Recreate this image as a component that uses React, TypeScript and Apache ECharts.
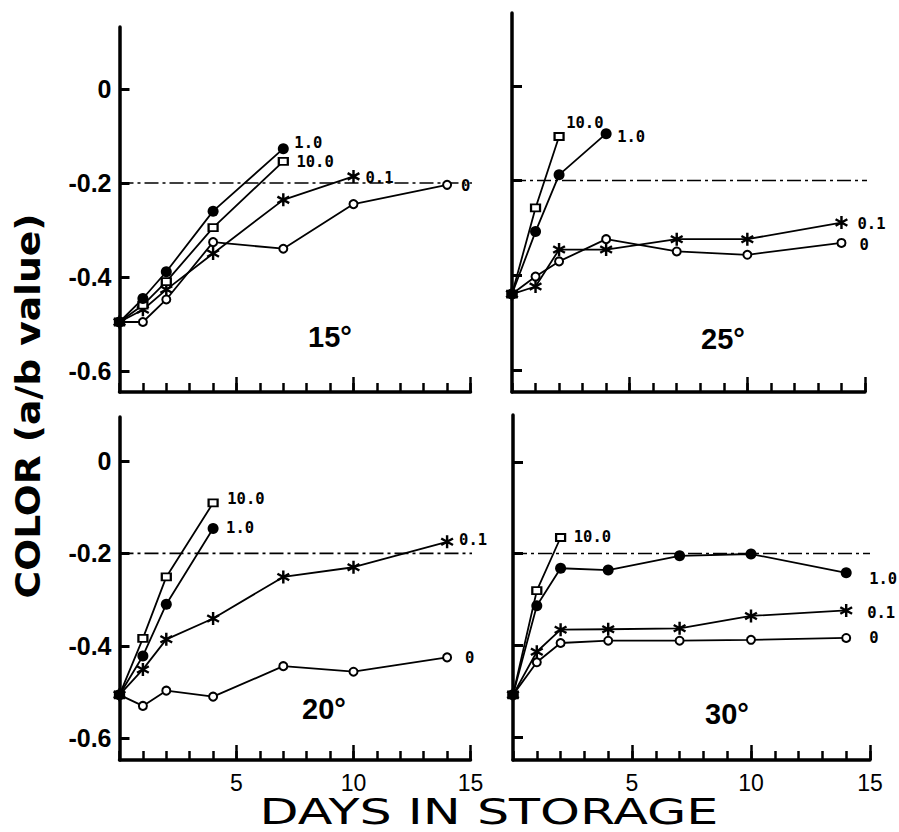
import React, { useEffect, useRef } from 'react';
import * as echarts from 'echarts';

// ---------- DATA ----------
const days = [0, 1, 2, 4, 7, 10, 14];
const concentrations = ['0', '0.1', '10.0', '1.0'];
const panelTemps = ['15°', '25°', '20°', '30°'];
const yTickValues = [0, -0.2, -0.4, -0.6];
const xTickValues = [0, 1, 2, 3, 4, 5, 6, 7, 8, 9, 10, 11, 12, 13, 14, 15];
const xLabelValues = [5, 10, 15];
const referenceValue = -0.2;

// 15 degrees
const t15_c0 = [-0.496, -0.496, -0.448, -0.326, -0.34, -0.245, -0.204];
const t15_c01 = [-0.496, -0.47, -0.427, -0.35, -0.236, -0.186];
const t15_c10 = [-0.496, -0.46, -0.41, -0.295, -0.154];
const t15_c1 = [-0.496, -0.446, -0.389, -0.26, -0.127];

// 25 degrees
const t25_c0 = [-0.44, -0.403, -0.371, -0.324, -0.35, -0.357, -0.332];
const t25_c01 = [-0.44, -0.424, -0.346, -0.346, -0.324, -0.324, -0.289];
const t25_c10 = [-0.44, -0.258, -0.107];
const t25_c1 = [-0.44, -0.308, -0.188, -0.101];

// 20 degrees
const t20_c0 = [-0.506, -0.53, -0.497, -0.51, -0.444, -0.456, -0.425];
const t20_c01 = [-0.506, -0.451, -0.386, -0.341, -0.251, -0.23, -0.175];
const t20_c10 = [-0.506, -0.384, -0.251, -0.091];
const t20_c1 = [-0.506, -0.422, -0.31, -0.146];

// 30 degrees
const t30_c0 = [-0.508, -0.437, -0.395, -0.39, -0.39, -0.388, -0.384];
const t30_c01 = [-0.508, -0.414, -0.366, -0.365, -0.363, -0.336, -0.324];
const t30_c10 = [-0.508, -0.281, -0.165];
const t30_c1 = [-0.508, -0.314, -0.232, -0.236, -0.205, -0.201, -0.242];

const panelValues = [
  [t15_c0, t15_c01, t15_c10, t15_c1],
  [t25_c0, t25_c01, t25_c10, t25_c1],
  [t20_c0, t20_c01, t20_c10, t20_c1],
  [t30_c0, t30_c01, t30_c10, t30_c1],
];

// ---------- LAYOUT / STYLE ----------
const layouts = [
  { left: 119.5, top: 27, width: 351, height: 365, yMin: -0.645, yMax: 0.132, refEnd: 15.9, showY: true, showX: false, title: [330, 337],
    offsets: [[13, 1], [12, 2], [12, 1], [11, -6]] },
  { left: 512, top: 13, width: 353, height: 379, yMin: -0.647, yMax: 0.154, refEnd: 15.2, showY: false, showX: false, title: [723, 339],
    offsets: [[17, 2], [16, 1], [6, -13], [11, 3]] },
  { left: 119.5, top: 417, width: 351, height: 343, yMin: -0.647, yMax: 0.095, refEnd: 15.7, showY: true, showX: true, title: [324, 709],
    offsets: [[17, 1], [12, -2], [13, -4], [13, 0]] },
  { left: 513, top: 415, width: 357, height: 345, yMin: -0.65, yMax: 0.102, refEnd: 15.0, showY: false, showX: true, title: [727, 714],
    offsets: [[22, 0], [21, 3], [12, 0], [23, 6]] },
];

const asterisk =
  'path://M8.2 0H11.8V20H8.2Z M19.56 6.56L2.24 16.56L0.44 13.44L17.76 3.44Z M0.44 6.56L2.24 3.44L19.56 13.44L17.76 16.56Z';

const symbolStyles = [
  { symbol: 'circle', size: 8, half: 4, itemStyle: { color: '#fff', borderColor: '#000', borderWidth: 2 } },
  { symbol: asterisk, size: 13, half: 6.5, itemStyle: { color: '#000' } },
  { symbol: 'rect', size: [9, 7], half: 4.5, itemStyle: { color: '#fff', borderColor: '#000', borderWidth: 2 } },
  { symbol: 'circle', size: 11, half: 5.5, itemStyle: { color: '#000' } },
];

const FONT = '"Liberation Sans", Arial, sans-serif';

function buildOption() {
  const grid = layouts.map((l) => ({ left: l.left, top: l.top, width: l.width, height: l.height }));

  const majorX = layouts.map((l, i) => ({
    type: 'value',
    gridIndex: i,
    min: 0,
    max: 15,
    position: 'bottom',
    axisLine: { show: true, onZero: false, lineStyle: { color: '#000', width: 3.5 } },
    axisTick: { show: true, inside: true, length: 15, customValues: xLabelValues, lineStyle: { color: '#000', width: 2.5 } },
    axisLabel: {
      show: l.showX,
      customValues: xLabelValues,
      margin: 11,
      color: '#000',
      fontFamily: FONT,
      fontSize: 23,
      lineHeight: 23,
    },
    splitLine: { show: false },
  }));
  const minorX = layouts.map((l, i) => ({
    type: 'value',
    gridIndex: i,
    min: 0,
    max: 15,
    position: 'bottom',
    axisLine: { show: false, onZero: false },
    axisTick: { show: true, inside: true, length: 9, customValues: xTickValues, lineStyle: { color: '#000', width: 2.5 } },
    axisLabel: { show: false },
    splitLine: { show: false },
  }));

  const yAxis = layouts.map((l, i) => ({
    type: 'value',
    gridIndex: i,
    min: l.yMin,
    max: l.yMax,
    axisLine: { show: true, onZero: false, lineStyle: { color: '#000', width: 3.5 } },
    axisTick: { show: true, inside: true, length: 10, customValues: yTickValues, lineStyle: { color: '#000', width: 3 } },
    axisLabel: {
      show: l.showY,
      customValues: yTickValues,
      formatter: (v: number) => (Math.abs(v) < 1e-9 ? '0' : v.toFixed(1)),
      margin: 8,
      color: '#000',
      fontFamily: FONT,
      fontWeight: 'bold',
      fontSize: 25,
    },
    splitLine: { show: false },
  }));

  const series: any[] = [];
  layouts.forEach((l, i) => {
    series.push({
      type: 'line',
      name: 'reference',
      xAxisIndex: i,
      yAxisIndex: i,
      data: [
        [0, referenceValue],
        [l.refEnd, referenceValue],
      ],
      symbol: 'none',
      clip: false,
      silent: true,
      lineStyle: { color: '#000', width: 1.6, type: [14, 4, 3, 4] },
      z: 1,
    });
    panelValues[i].forEach((vals, j) => {
      const st = symbolStyles[j];
      const [dx, dy] = l.offsets[j];
      const data = vals.map((v, k) =>
        k === vals.length - 1
          ? {
              value: [days[k], v],
              label: {
                show: true,
                position: 'right',
                distance: 0,
                offset: [dx - st.half, dy],
                formatter: concentrations[j],
                color: '#000',
                fontFamily: '"DejaVu Sans Mono", monospace',
                fontWeight: 'bold',
                fontSize: 15.5,
                lineHeight: 14,
              },
            }
          : [days[k], v]
      );
      series.push({
        type: 'line',
        name: concentrations[j],
        xAxisIndex: i,
        yAxisIndex: i,
        data,
        symbol: st.symbol,
        symbolSize: st.size,
        showSymbol: true,
        clip: false,
        lineStyle: { color: '#000', width: 1.8 },
        itemStyle: st.itemStyle,
        label: { show: false },
        z: 2 + j,
      });
    });
  });

  const graphic: any[] = layouts.map((l, i) => ({
    type: 'text',
    x: l.title[0],
    y: l.title[1],
    style: {
      text: panelTemps[i],
      fill: '#000',
      fontFamily: FONT,
      fontWeight: 'bold',
      fontSize: 29,
      align: 'center',
      verticalAlign: 'middle',
    },
  }));
  graphic.push({
    type: 'text',
    x: 28,
    y: 406,
    rotation: Math.PI / 2,
    scaleX: 1.14,
    style: {
      text: 'COLOR (a/b value)',
      fill: '#000',
      fontFamily: '"DejaVu Sans", sans-serif',
      fontWeight: 'bold',
      fontSize: 33,
      align: 'center',
      verticalAlign: 'middle',
    },
  });
  graphic.push({
    type: 'text',
    x: 489,
    y: 812,
    scaleX: 1.45,
    style: {
      text: 'DAYS IN STORAGE',
      fill: '#000',
      fontFamily: '"DejaVu Sans", sans-serif',
      fontSize: 35,
      lineHeight: 33,
      align: 'center',
      verticalAlign: 'middle',
    },
  });

  return {
    animation: false,
    backgroundColor: '#fff',
    grid,
    xAxis: [...majorX, ...minorX],
    yAxis,
    series,
    graphic,
  };
}

export default function App() {
  const ref = useRef<HTMLDivElement>(null);
  useEffect(() => {
    if (!ref.current) return;
    const chart = echarts.init(ref.current, undefined, { renderer: 'svg' });
    chart.setOption(buildOption() as any);
    return () => chart.dispose();
  }, []);
  return (
    <div
      ref={ref}
      style={{ position: 'absolute', left: 0, top: 0, width: 899, height: 832, background: '#fff' }}
    />
  );
}
